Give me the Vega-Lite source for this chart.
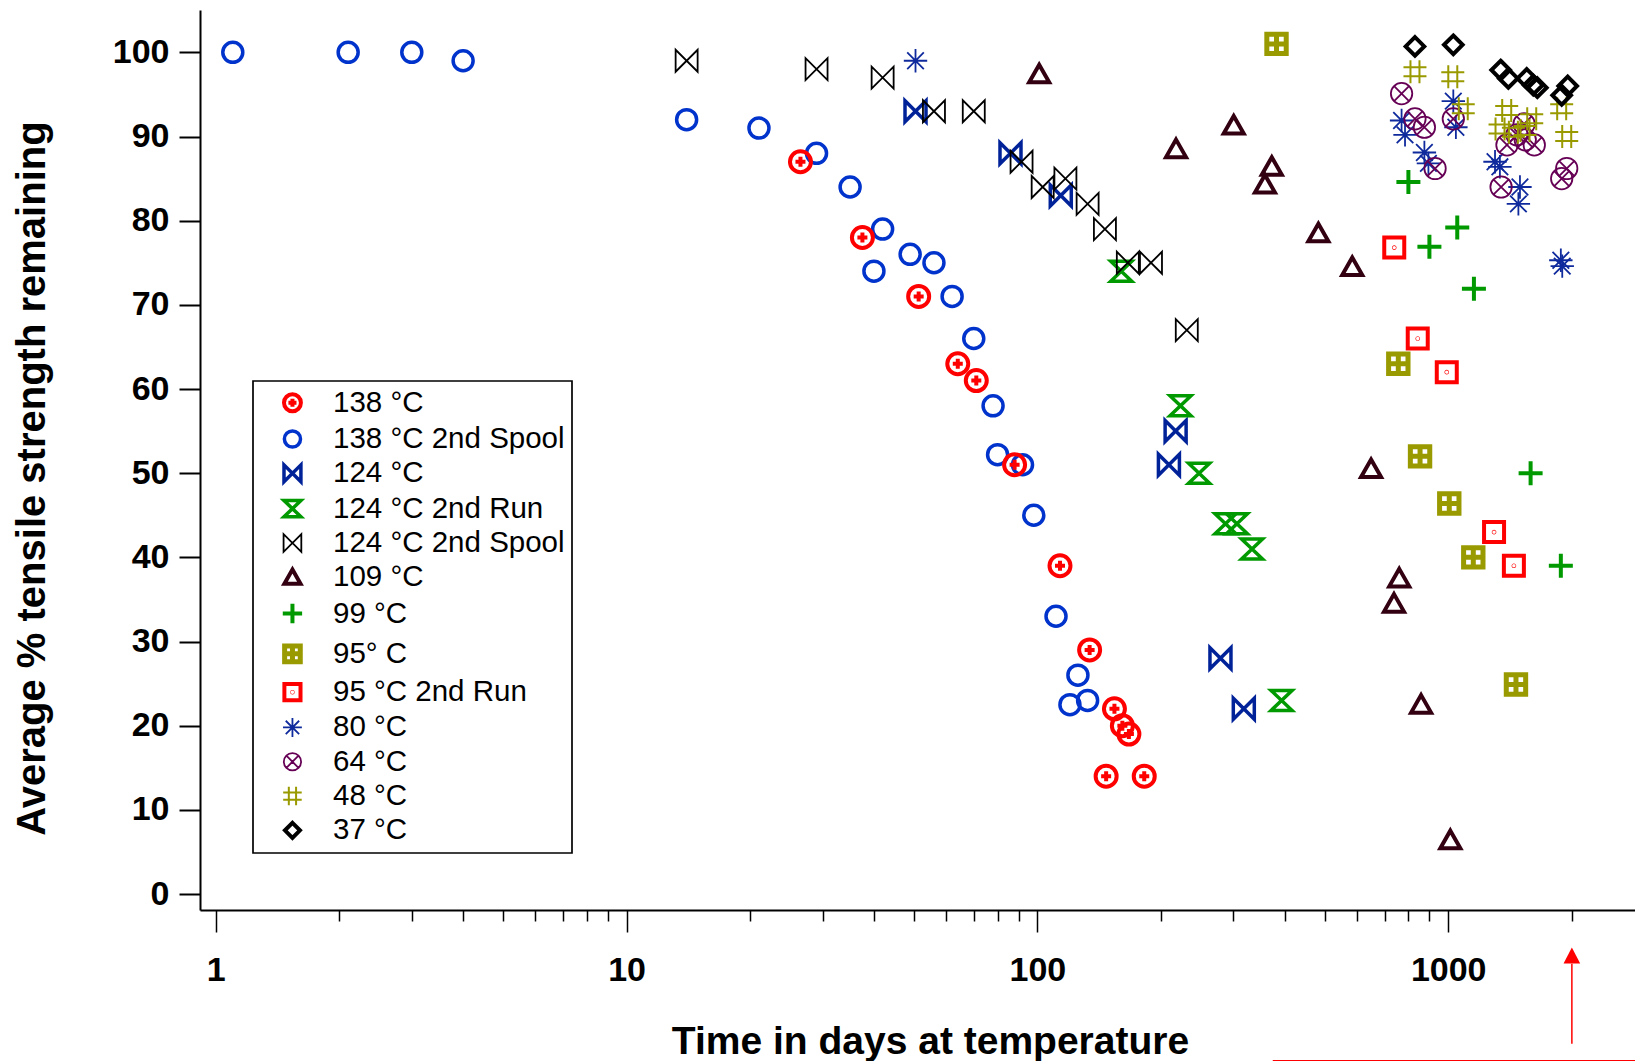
{
  "$schema": "https://vega.github.io/schema/vega-lite/v6.json",
  "autosize": {"type": "none"},
  "padding": {"left": 200, "top": 10, "right": 0, "bottom": 151},
  "width": 1435,
  "height": 900,
  "background": "white",
  "config": {
    "view": {"stroke": null},
    "legend": {
      "orient": "none",
      "legendX": 53,
      "legendY": 371,
      "strokeColor": "black",
      "strokeWidth": 1.7,
      "padding": 7,
      "labelFont": "Liberation Sans",
      "labelFontSize": 29.5,
      "labelColor": "black",
      "symbolSize": 260,
      "rowPadding": 3.3,
      "symbolOffset": 17.7,
      "labelOffset": 25.8,
      "labelLimit": 400
    }
  },
  "datasets": {
    "pts": [
      {"s": "138 °C 2nd Spool", "x": 1.1, "y": 100},
      {"s": "138 °C 2nd Spool", "x": 2.1, "y": 100},
      {"s": "138 °C 2nd Spool", "x": 3.0, "y": 100},
      {"s": "138 °C 2nd Spool", "x": 4.0, "y": 99},
      {"s": "138 °C 2nd Spool", "x": 14, "y": 92},
      {"s": "138 °C 2nd Spool", "x": 21, "y": 91},
      {"s": "138 °C 2nd Spool", "x": 29, "y": 88},
      {"s": "138 °C 2nd Spool", "x": 35, "y": 84},
      {"s": "138 °C 2nd Spool", "x": 42, "y": 79},
      {"s": "138 °C 2nd Spool", "x": 40, "y": 74},
      {"s": "138 °C 2nd Spool", "x": 49, "y": 76},
      {"s": "138 °C 2nd Spool", "x": 56, "y": 75},
      {"s": "138 °C 2nd Spool", "x": 62, "y": 71},
      {"s": "138 °C 2nd Spool", "x": 70, "y": 66},
      {"s": "138 °C 2nd Spool", "x": 78, "y": 58},
      {"s": "138 °C 2nd Spool", "x": 80, "y": 52.2},
      {"s": "138 °C 2nd Spool", "x": 92, "y": 51},
      {"s": "138 °C 2nd Spool", "x": 98, "y": 45},
      {"s": "138 °C 2nd Spool", "x": 111, "y": 33},
      {"s": "138 °C 2nd Spool", "x": 125.5, "y": 26},
      {"s": "138 °C 2nd Spool", "x": 120, "y": 22.5},
      {"s": "138 °C 2nd Spool", "x": 132.5, "y": 23},
      {"s": "138 °C", "x": 26.5, "y": 87},
      {"s": "138 °C", "x": 37.5, "y": 78},
      {"s": "138 °C", "x": 51.4, "y": 71},
      {"s": "138 °C", "x": 64, "y": 63},
      {"s": "138 °C", "x": 71, "y": 61},
      {"s": "138 °C", "x": 88, "y": 51},
      {"s": "138 °C", "x": 113.5, "y": 39},
      {"s": "138 °C", "x": 134, "y": 29},
      {"s": "138 °C", "x": 154, "y": 22},
      {"s": "138 °C", "x": 161, "y": 20},
      {"s": "138 °C", "x": 167, "y": 19},
      {"s": "138 °C", "x": 147, "y": 14},
      {"s": "138 °C", "x": 182, "y": 14},
      {"s": "124 °C", "x": 50.5, "y": 93},
      {"s": "124 °C", "x": 86, "y": 88},
      {"s": "124 °C", "x": 114, "y": 83},
      {"s": "124 °C", "x": 217, "y": 55},
      {"s": "124 °C", "x": 209, "y": 51},
      {"s": "124 °C", "x": 279, "y": 28},
      {"s": "124 °C", "x": 318, "y": 22},
      {"s": "124 °C 2nd Run", "x": 160, "y": 74},
      {"s": "124 °C 2nd Run", "x": 223, "y": 58},
      {"s": "124 °C 2nd Run", "x": 247.5, "y": 50},
      {"s": "124 °C 2nd Run", "x": 287, "y": 44},
      {"s": "124 °C 2nd Run", "x": 306, "y": 44},
      {"s": "124 °C 2nd Run", "x": 333, "y": 41},
      {"s": "124 °C 2nd Run", "x": 393, "y": 23},
      {"s": "124 °C 2nd Spool", "x": 14, "y": 99},
      {"s": "124 °C 2nd Spool", "x": 29, "y": 98},
      {"s": "124 °C 2nd Spool", "x": 42, "y": 97},
      {"s": "124 °C 2nd Spool", "x": 56, "y": 93},
      {"s": "124 °C 2nd Spool", "x": 70, "y": 93},
      {"s": "124 °C 2nd Spool", "x": 91.5, "y": 87},
      {"s": "124 °C 2nd Spool", "x": 103, "y": 84},
      {"s": "124 °C 2nd Spool", "x": 117, "y": 85},
      {"s": "124 °C 2nd Spool", "x": 132.5, "y": 82},
      {"s": "124 °C 2nd Spool", "x": 146, "y": 79},
      {"s": "124 °C 2nd Spool", "x": 166, "y": 75},
      {"s": "124 °C 2nd Spool", "x": 189, "y": 75},
      {"s": "124 °C 2nd Spool", "x": 231, "y": 67},
      {"s": "109 °C", "x": 101, "y": 97.4},
      {"s": "109 °C", "x": 217.5, "y": 88.5},
      {"s": "109 °C", "x": 300.5, "y": 91.3},
      {"s": "109 °C", "x": 372, "y": 86.4},
      {"s": "109 °C", "x": 358, "y": 84.3},
      {"s": "109 °C", "x": 483, "y": 78.5},
      {"s": "109 °C", "x": 584, "y": 74.5},
      {"s": "109 °C", "x": 649, "y": 50.5},
      {"s": "109 °C", "x": 760, "y": 37.5},
      {"s": "109 °C", "x": 738, "y": 34.5},
      {"s": "109 °C", "x": 859, "y": 22.5},
      {"s": "109 °C", "x": 1012, "y": 6.4},
      {"s": "99 °C", "x": 800, "y": 84.6},
      {"s": "99 °C", "x": 900, "y": 76.9},
      {"s": "99 °C", "x": 1052, "y": 79.2},
      {"s": "99 °C", "x": 1155, "y": 71.9},
      {"s": "99 °C", "x": 1587, "y": 50},
      {"s": "99 °C", "x": 1880, "y": 39},
      {"s": "95° C", "x": 382, "y": 101},
      {"s": "95° C", "x": 756, "y": 63},
      {"s": "95° C", "x": 854, "y": 52},
      {"s": "95° C", "x": 1006, "y": 46.4},
      {"s": "95° C", "x": 1151, "y": 40},
      {"s": "95° C", "x": 1462, "y": 24.9},
      {"s": "95 °C 2nd Run", "x": 739, "y": 76.8},
      {"s": "95 °C 2nd Run", "x": 843, "y": 66},
      {"s": "95 °C 2nd Run", "x": 992, "y": 62},
      {"s": "95 °C 2nd Run", "x": 1293, "y": 43},
      {"s": "95 °C 2nd Run", "x": 1445, "y": 39},
      {"s": "80 °C", "x": 50.5, "y": 99},
      {"s": "80 °C", "x": 770, "y": 91.9},
      {"s": "80 °C", "x": 785, "y": 90.2},
      {"s": "80 °C", "x": 875, "y": 88.1},
      {"s": "80 °C", "x": 895, "y": 86.8},
      {"s": "80 °C", "x": 1029, "y": 94.2},
      {"s": "80 °C", "x": 1044, "y": 91.1},
      {"s": "80 °C", "x": 1300, "y": 87},
      {"s": "80 °C", "x": 1336, "y": 86.4},
      {"s": "80 °C", "x": 1495, "y": 84},
      {"s": "80 °C", "x": 1482, "y": 82},
      {"s": "80 °C", "x": 1880, "y": 75.3},
      {"s": "80 °C", "x": 1895, "y": 74.6},
      {"s": "64 °C", "x": 770, "y": 95.1},
      {"s": "64 °C", "x": 830, "y": 92.1},
      {"s": "64 °C", "x": 875, "y": 91.1},
      {"s": "64 °C", "x": 929, "y": 86.2},
      {"s": "64 °C", "x": 1029, "y": 92.1},
      {"s": "64 °C", "x": 1345, "y": 84},
      {"s": "64 °C", "x": 1390, "y": 89},
      {"s": "64 °C", "x": 1470, "y": 90.2},
      {"s": "64 °C", "x": 1530, "y": 91.5},
      {"s": "64 °C", "x": 1540, "y": 89.6},
      {"s": "64 °C", "x": 1620, "y": 89},
      {"s": "64 °C", "x": 1889, "y": 85},
      {"s": "64 °C", "x": 1943, "y": 86.2},
      {"s": "48 °C", "x": 830, "y": 97.7},
      {"s": "48 °C", "x": 1026, "y": 97.1},
      {"s": "48 °C", "x": 1088, "y": 93.3},
      {"s": "48 °C", "x": 1388, "y": 93.1},
      {"s": "48 °C", "x": 1337, "y": 90.9},
      {"s": "48 °C", "x": 1441, "y": 90.5},
      {"s": "48 °C", "x": 1538, "y": 90.7},
      {"s": "48 °C", "x": 1597, "y": 92.1},
      {"s": "48 °C", "x": 1889, "y": 93.3},
      {"s": "48 °C", "x": 1943, "y": 90},
      {"s": "37 °C", "x": 830, "y": 100.7},
      {"s": "37 °C", "x": 1029, "y": 100.9},
      {"s": "37 °C", "x": 1342, "y": 97.9},
      {"s": "37 °C", "x": 1401, "y": 96.9},
      {"s": "37 °C", "x": 1553, "y": 96.9},
      {"s": "37 °C", "x": 1611, "y": 96.1},
      {"s": "37 °C", "x": 1648, "y": 95.8},
      {"s": "37 °C", "x": 1954, "y": 96},
      {"s": "37 °C", "x": 1889, "y": 94.9}
    ],
    "arrow": [{"x": 2000, "y": -8.3, "y2": -17.8}],
    "arrowhead": [{"x": 2000, "y": -7.3}],
    "redline": [{"x": 374, "x2": 6000, "y": -19.8}]
  },
  "resolve": {"axis": {"x": "independent", "y": "shared"}},
  "layer": [
    {
      "data": {"name": "pts"},
      "mark": {"type": "point", "filled": false, "size": 400, "opacity": 1},
      "encoding": {
        "x": {
          "field": "x", "type": "quantitative",
          "scale": {"type": "log", "domain": [0.9153, 2849], "nice": false},
          "axis": {
            "orient": "bottom",
            "values": [1, 10, 100, 1000],
            "format": "d",
            "grid": false,
            "title": "Time in days at temperature",
            "domainColor": "black", "domainWidth": 2,
            "tickColor": "black", "tickWidth": 1.5, "tickSize": 22,
            "labelFont": "Liberation Sans", "labelFontWeight": "bold", "labelFontSize": 34, "labelColor": "black",
            "labelPadding": 21, "labelFlush": false, "labelOverlap": false,
            "titleFont": "Liberation Sans", "titleFontWeight": "bold", "titleFontSize": 39, "titleColor": "black",
            "titleX": 730, "titleY": 143, "titleAlign": "center", "titleBaseline": "alphabetic", "titleAngle": 0
          }
        },
        "y": {
          "field": "y", "type": "quantitative",
          "scale": {"domain": [-1.9, 105.03], "nice": false, "zero": false},
          "axis": {
            "orient": "left",
            "values": [0, 10, 20, 30, 40, 50, 60, 70, 80, 90, 100],
            "grid": false,
            "title": "Average % tensile strength remaining",
            "domainColor": "black", "domainWidth": 2,
            "tickColor": "black", "tickWidth": 2, "tickSize": 21,
            "labelFont": "Liberation Sans", "labelFontWeight": "bold", "labelFontSize": 34, "labelColor": "black",
            "labelPadding": 10, "labelFlush": false, "labelOverlap": false,
            "titleFont": "Liberation Sans", "titleFontWeight": "bold", "titleFontSize": 40, "titleColor": "black",
            "titleX": -156, "titleY": 468, "titleAngle": -90, "titleAlign": "center", "titleBaseline": "alphabetic"
          }
        },
        "shape": {
          "field": "s", "type": "nominal",
          "scale": {
            "domain": ["138 °C", "138 °C 2nd Spool", "124 °C", "124 °C 2nd Run", "124 °C 2nd Spool", "109 °C", "99 °C", "95° C", "95 °C 2nd Run", "80 °C", "64 °C", "48 °C", "37 °C"],
            "range": [
              "M-1.05,0A1.05,1.05,0,1,0,1.05,0A1.05,1.05,0,1,0,-1.05,0ZM-0.5,0H0.5M0,-0.5V0.5",
              "M-1,0A1,1,0,1,0,1,0A1,1,0,1,0,-1,0Z",
              "M-1.05,-1.05L-1.05,1.05L1.05,-1.05L1.05,1.05Z",
              "M-1.05,-1L1.05,-1L-1.05,1L1.05,1Z",
              "M-1.1,-1.1L-1.1,1.1L1.1,-1.1L1.1,1.1Z",
              "M0,-0.95L1,0.8L-1,0.8Z",
              "M-1.2,0H1.2M0,-1.2V1.2",
              "M-0.97,-0.97H0.97V0.97H-0.97ZM0,-0.97V0.97M-0.97,0H0.97",
              "M-1,-1H1V1H-1ZM-0.03,0A0.03,0.03,0,1,0,0.03,0A0.03,0.03,0,1,0,-0.03,0Z",
              "M-1.17,0H1.17M0,-1.17V1.17M-0.83,-0.83L0.83,0.83M-0.83,0.83L0.83,-0.83",
              "M-1.07,0A1.07,1.07,0,1,0,1.07,0A1.07,1.07,0,1,0,-1.07,0ZM-0.72,-0.72L0.72,0.72M-0.72,0.72L0.72,-0.72",
              "M-1.15,-0.45H1.15M-1.15,0.45H1.15M-0.45,-1.15V1.15M0.45,-1.15V1.15",
              "M0,-0.93L0.93,0L0,0.93L-0.93,0Z"
            ]
          },
          "legend": {"title": null}
        },
        "stroke": {
          "field": "s", "type": "nominal",
          "scale": {
            "domain": ["138 °C", "138 °C 2nd Spool", "124 °C", "124 °C 2nd Run", "124 °C 2nd Spool", "109 °C", "99 °C", "95° C", "95 °C 2nd Run", "80 °C", "64 °C", "48 °C", "37 °C"],
            "range": ["#ff0000", "#0033cc", "#002299", "#009900", "#000000", "#330011", "#009900", "#999900", "#ff0000", "#0f2a9c", "#660055", "#999900", "#000000"]
          },
          "legend": {"title": null}
        },
        "strokeWidth": {
          "field": "s", "type": "nominal",
          "scale": {
            "type": "ordinal",
            "domain": ["138 °C", "138 °C 2nd Spool", "124 °C", "124 °C 2nd Run", "124 °C 2nd Spool", "109 °C", "99 °C", "95° C", "95 °C 2nd Run", "80 °C", "64 °C", "48 °C", "37 °C"],
            "range": [4, 3.5, 3.5, 3.5, 1.8, 4, 4, 5, 4, 1.8, 1.8, 2, 4]
          },
          "legend": {"title": null}
        }
      }
    },
    {
      "data": {"name": "arrow"},
      "mark": {"type": "rule", "color": "#ff0000", "strokeWidth": 1.5},
      "encoding": {
        "x": {
          "field": "x", "type": "quantitative",
          "scale": {"type": "log", "domain": [0.9153, 2849], "nice": false},
          "axis": {
            "orient": "bottom",
            "values": [2, 3, 4, 5, 6, 7, 8, 9, 20, 30, 40, 50, 60, 70, 80, 90, 200, 300, 400, 500, 600, 700, 800, 900, 2000],
            "labels": false, "domain": false, "grid": false, "title": null,
            "tickColor": "black", "tickWidth": 1.5, "tickSize": 11
          }
        },
        "y": {"field": "y", "type": "quantitative"},
        "y2": {"field": "y2"}
      }
    },
    {
      "data": {"name": "arrowhead"},
      "mark": {"type": "point", "filled": true, "color": "#ff0000", "size": 256, "strokeWidth": 0, "opacity": 1, "shape": "M0,-1L1.04,1L-1.04,1Z"},
      "encoding": {
        "x": {"field": "x", "type": "quantitative", "axis": null},
        "y": {"field": "y", "type": "quantitative"}
      }
    },
    {
      "data": {"name": "redline"},
      "mark": {"type": "rule", "color": "#ff0000", "strokeWidth": 1.5},
      "encoding": {
        "x": {"field": "x", "type": "quantitative", "axis": null},
        "x2": {"field": "x2"},
        "y": {"field": "y", "type": "quantitative"}
      }
    }
  ]
}
